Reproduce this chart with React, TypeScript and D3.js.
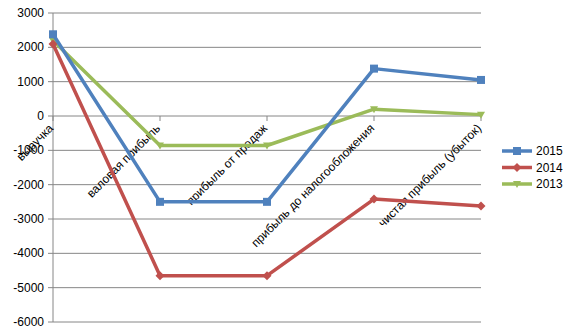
import React from "react";
import * as d3 from "d3";

const categories = ["выручка", "валовая прибыль", "прибыль от продаж", "прибыль до налогообложения", "чистая прибыль (убыток)"];
const seriesNames = ["2015", "2014", "2013"];
const values2015 = [2380, -2500, -2500, 1380, 1050];
const values2014 = [2100, -4650, -4650, -2420, -2620];
const values2013 = [2200, -860, -860, 200, 40];
const colors = ["#4F81BD", "#C0504D", "#9BBB59"];
const yTicks = [3000, 2000, 1000, 0, -1000, -2000, -3000, -4000, -5000, -6000];

const W = 576, H = 336;
const left = 53, right = 481, top = 13, bottom = 322;

function Marker({ kind, x, y, color }: { kind: number; x: number; y: number; color: string }) {
  if (kind === 0) return <rect x={x - 4} y={y - 4} width={8} height={8} fill={color} />;
  if (kind === 1) return <path d={`M${x},${y - 4.5}L${x + 4.5},${y}L${x},${y + 4.5}L${x - 4.5},${y}Z`} fill={color} />;
  return <path d={`M${x - 4},${y - 3}L${x + 4},${y - 3}L${x},${y + 4}Z`} fill={color} />;
}

export default function App() {
  const x = d3.scalePoint<string>().domain(categories).range([left, right]);
  const y = d3.scaleLinear().domain([-6000, 3000]).range([bottom, top]);
  const series = [values2015, values2014, values2013];
  const line = d3.line<number>().x((_, i) => x(categories[i])!).y((d) => y(d));
  const font = "'Liberation Sans', Arial, sans-serif";
  const drawOrder = [2, 1, 0];
  return (
    <svg width={W} height={H} style={{ position: "absolute", left: 0, top: 0 }} fontFamily={font}>
      <rect width={W} height={H} fill="#fff" />
      {yTicks.map((t) => (
        <g key={t}>
          <line x1={left - 5} x2={right} y1={y(t)} y2={y(t)} stroke="#868686" strokeWidth={1} />
          <text x={44} y={y(t) + 4} textAnchor="end" fontSize={12} fill="#000">{t}</text>
        </g>
      ))}
      <line x1={left} x2={left} y1={top} y2={bottom} stroke="#868686" strokeWidth={1} />
      {categories.map((c) => (
        <line key={c} x1={x(c)} x2={x(c)} y1={y(0)} y2={y(0) + 5} stroke="#868686" strokeWidth={1} />
      ))}
      {categories.map((c) => (
        <text key={c} transform={`translate(${x(c)! + 1},${y(0) + 13}) rotate(-45)`} textAnchor="end" fontSize={12} fill="#000">{c}</text>
      ))}
      {drawOrder.map((si) => (
        <g key={si}>
          <path d={line(series[si]) || ""} fill="none" stroke={colors[si]} strokeWidth={3.5} strokeLinejoin="round" />
          {series[si].map((v, i) => (
            <Marker key={i} kind={si} x={x(categories[i])!} y={y(v)} color={colors[si]} />
          ))}
        </g>
      ))}
      {seriesNames.map((n, i) => {
        const ly = 151 + i * 16.5;
        return (
          <g key={n}>
            <line x1={502} x2={532} y1={ly} y2={ly} stroke={colors[i]} strokeWidth={3.5} />
            <Marker kind={i} x={517} y={ly} color={colors[i]} />
            <text x={536} y={ly + 4} fontSize={12} fill="#000">{n}</text>
          </g>
        );
      })}
    </svg>
  );
}
